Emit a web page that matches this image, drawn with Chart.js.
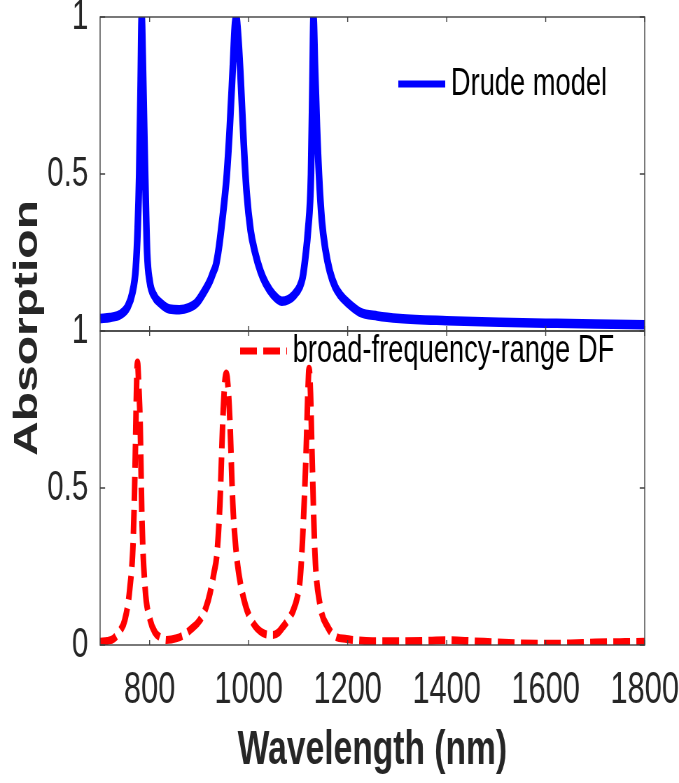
<!DOCTYPE html>
<html>
<head>
<meta charset="utf-8">
<script src="https://cdn.jsdelivr.net/npm/chart.js@4.4.1/dist/chart.umd.min.js"></script>
<style>
  html, body { margin: 0; padding: 0; background: #ffffff; }
  #absorptionChart { display: block; width: 679px; height: 783px; }
</style>
</head>
<body>
<!-- drawn 970 wide and shown at 679: the figure's text and strokes are narrow like the original -->
<canvas id="absorptionChart" width="970" height="783" style="width:679px;height:783px"></canvas>
<script>
const SQUEEZE = 679 / 970;
const AXIS_COLOR = '#262626';
const FONT = 'Liberation Sans, Arial, Helvetica, sans-serif';

const X_TICKS = [800, 1000, 1200, 1400, 1600, 1800];
const Y_TICKS = [0, 0.5, 1];

// Drude model (top panel)
const drudeWavelength = [
    700, 720, 740, 755, 765, 772, 776, 779, 782, 784, 786, 789, 791, 795, 800, 810, 821, 840, 860, 880,
    895, 908, 922, 928, 934, 938, 942, 945, 948, 952, 956, 962, 968, 972, 975, 978, 984, 990, 996, 1004,
    1013, 1024, 1035, 1050, 1067, 1080, 1092, 1103, 1109, 1115, 1120, 1126, 1129, 1131, 1134, 1138, 1142, 1148, 1155, 1164,
    1175, 1185, 1200, 1225, 1260, 1305, 1400, 1508, 1600, 1700, 1800
];
const drudeAbsorption = [
    0.04, 0.043, 0.052, 0.075, 0.12, 0.2, 0.33, 0.5, 0.8, 1.0, 0.88, 0.65, 0.5, 0.25, 0.16, 0.11, 0.09, 0.07, 0.068, 0.075,
    0.09, 0.12, 0.16, 0.185, 0.21, 0.245, 0.29, 0.33, 0.37, 0.43, 0.5, 0.65, 0.84, 0.97, 1.0, 0.96, 0.8, 0.6, 0.44, 0.32,
    0.25, 0.19, 0.15, 0.115, 0.095, 0.1, 0.115, 0.14, 0.17, 0.24, 0.32, 0.5, 0.8, 1.0, 0.85, 0.65, 0.5, 0.35, 0.26, 0.19,
    0.14, 0.115, 0.09, 0.06, 0.048, 0.04, 0.033, 0.028, 0.025, 0.022, 0.02
];

// broad-frequency-range DF (bottom panel)
const dfWavelength = [
    700, 715, 727, 740, 750, 760, 767, 771, 774, 775.5, 778, 781, 784.5, 791, 801, 811, 821, 834, 855, 870,
    882, 902, 914, 922, 930, 936, 942, 948, 952, 955, 958, 962, 968, 973, 979, 993, 1009, 1029, 1049, 1060,
    1069, 1080, 1090, 1098, 1104, 1109, 1116, 1120, 1122, 1125, 1128, 1134, 1144, 1160, 1178, 1195, 1211, 1250, 1300, 1350,
    1400, 1450, 1500, 1550, 1600, 1650, 1700, 1750, 1800
];
const dfAbsorption = [
    0.01, 0.013, 0.02, 0.045, 0.08, 0.18, 0.34, 0.6, 0.85, 0.9, 0.83, 0.7, 0.4, 0.18, 0.08, 0.04, 0.025, 0.016, 0.022, 0.033,
    0.048, 0.08, 0.12, 0.165, 0.23, 0.29, 0.45, 0.72, 0.84, 0.865, 0.83, 0.72, 0.45, 0.33, 0.24, 0.13, 0.07, 0.038, 0.032, 0.04,
    0.057, 0.08, 0.11, 0.15, 0.21, 0.34, 0.61, 0.82, 0.88, 0.8, 0.61, 0.29, 0.13, 0.057, 0.025, 0.02, 0.016, 0.012, 0.012, 0.013,
    0.015, 0.012, 0.008, 0.005, 0.004, 0.005, 0.008, 0.009, 0.01
];

function toPoints(xs, ys) {
    return xs.map((x, i) => ({ x: x, y: ys[i] }));
}

// MATLAB style box with inward ticks around each panel
const panelFrame = {
    id: 'panelFrame',
    afterDraw(chart, args, opts) {
        const ctx = chart.ctx;
        const x = chart.scales.x;
        ctx.save();
        ctx.strokeStyle = opts.color;
        ctx.lineWidth = 1.4;
        ['yTop', 'yBot'].forEach(id => {
            const y = chart.scales[id];
            ctx.strokeRect(x.left, y.top, x.right - x.left, y.bottom - y.top);
            ctx.beginPath();
            x.ticks.forEach(t => {
                const px = x.getPixelForValue(t.value);
                ctx.moveTo(px, y.bottom);
                ctx.lineTo(px, y.bottom - opts.tickLen);
                ctx.moveTo(px, y.top);
                ctx.lineTo(px, y.top + opts.tickLen);
            });
            y.ticks.forEach(t => {
                const py = y.getPixelForValue(t.value);
                ctx.moveTo(x.left, py);
                ctx.lineTo(x.left + opts.tickLen / SQUEEZE, py);
                ctx.moveTo(x.right, py);
                ctx.lineTo(x.right - opts.tickLen / SQUEEZE, py);
            });
            ctx.stroke();
        });
        ctx.restore();
    }
};

// one legend entry per panel, drawn inside the plot
const panelLegend = {
    id: 'panelLegend',
    afterDatasetsDraw(chart, args, opts) {
        const ctx = chart.ctx;
        ctx.save();
        chart.data.datasets.forEach((ds, i) => {
            const pos = opts.entries[i];
            ctx.strokeStyle = ds.borderColor;
            ctx.lineWidth = 7;
            ctx.lineCap = 'butt';
            ctx.setLineDash(ds.borderDash || []);
            ctx.beginPath();
            ctx.moveTo(pos.x, pos.y);
            ctx.lineTo(pos.x + opts.lineLen, pos.y);
            ctx.stroke();
            ctx.setLineDash([]);
            ctx.fillStyle = '#000000';
            ctx.font = opts.font;
            ctx.textAlign = 'left';
            ctx.textBaseline = 'middle';
            ctx.fillText(ds.label, pos.x + opts.lineLen + 8, pos.y);
        });
        ctx.restore();
    }
};

// shared y title across both panels
const sharedYTitle = {
    id: 'sharedYTitle',
    afterDraw(chart, args, opts) {
        const ctx = chart.ctx;
        const area = chart.chartArea;
        ctx.save();
        ctx.translate(opts.x, (area.top + area.bottom) / 2 - 3);
        ctx.rotate(-Math.PI / 2);
        ctx.fillStyle = AXIS_COLOR;
        ctx.font = opts.font;
        ctx.textAlign = 'center';
        ctx.textBaseline = 'middle';
        ctx.fillText(opts.text, 0, 0);
        ctx.restore();
    }
};

function fixedWidth(scale) {
    scale.width = 143;
    scale.paddingTop = 0;
    scale.paddingBottom = 0;
}

const yTickFont = { family: FONT, size: 42 };

new Chart(document.getElementById('absorptionChart'), {
    type: 'line',
    data: {
        datasets: [{
            label: 'Drude model',
            data: toPoints(drudeWavelength, drudeAbsorption),
            yAxisID: 'yTop',
            borderColor: '#0000FF',
            borderWidth: 9.5,
            pointRadius: 0,
            cubicInterpolationMode: 'monotone',
            fill: false
        }, {
            label: 'broad-frequency-range DF',
            data: toPoints(dfWavelength, dfAbsorption),
            yAxisID: 'yBot',
            borderColor: '#FF0000',
            borderWidth: 8,
            borderDash: [24, 9],
            borderCapStyle: 'butt',
            pointRadius: 0,
            cubicInterpolationMode: 'monotone',
            fill: false
        }]
    },
    options: {
        responsive: false,
        devicePixelRatio: 1,
        animation: false,
        events: [],
        layout: { padding: { top: 17, right: 49, bottom: 0, left: 0 } },
        scales: {
            x: {
                type: 'linear',
                min: 700,
                max: 1800,
                grid: { display: false, drawTicks: false },
                border: { display: false },
                afterBuildTicks: scale => { scale.ticks = X_TICKS.map(v => ({ value: v })); },
                afterFit: scale => {
                    scale.height = 138;
                    scale.paddingLeft = 0;
                    scale.paddingRight = 0;
                },
                ticks: {
                    autoSkip: false,
                    maxRotation: 0,
                    padding: 19,
                    color: AXIS_COLOR,
                    font: { family: FONT, size: 44 },
                    callback: v => String(v)
                },
                title: {
                    display: true,
                    text: 'Wavelength (nm)',
                    color: AXIS_COLOR,
                    font: { family: FONT, size: 48, weight: 'bold' },
                    padding: { top: 0, bottom: 3 }
                }
            },
            // stacked left axes: the later one is placed on top
            yBot: {
                type: 'linear',
                position: 'left',
                stack: 'panels',
                min: 0,
                max: 1,
                grid: { display: false, drawTicks: false },
                border: { display: false },
                afterBuildTicks: scale => { scale.ticks = Y_TICKS.map(v => ({ value: v })); },
                afterFit: fixedWidth,
                ticks: {
                    autoSkip: false,
                    padding: 17,
                    color: AXIS_COLOR,
                    font: yTickFont,
                    callback: v => String(v)
                }
            },
            yTop: {
                type: 'linear',
                position: 'left',
                stack: 'panels',
                min: 0,
                max: 1,
                grid: { display: false, drawTicks: false },
                border: { display: false },
                afterBuildTicks: scale => { scale.ticks = Y_TICKS.map(v => ({ value: v })); },
                afterFit: fixedWidth,
                ticks: {
                    autoSkip: false,
                    padding: 17,
                    color: AXIS_COLOR,
                    font: yTickFont,
                    callback: v => (v === 0 ? '' : String(v))
                }
            }
        },
        plugins: {
            legend: { display: false },
            tooltip: { enabled: false },
            title: { display: false },
            panelFrame: { color: '#404040', tickLen: 5 },
            panelLegend: {
                font: '39px ' + FONT,
                lineLen: 67,
                entries: [{ x: 569, y: 84 }, { x: 343, y: 351 }]
            },
            sharedYTitle: {
                text: 'Absorption',
                x: 40,
                font: 'bold 48px ' + FONT
            }
        }
    },
    plugins: [panelFrame, panelLegend, sharedYTitle]
});
</script>
</body>
</html>
